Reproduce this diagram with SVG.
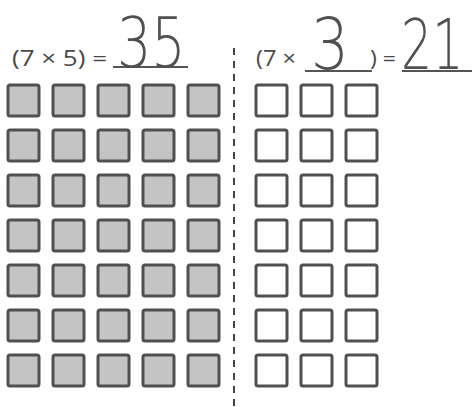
<svg xmlns="http://www.w3.org/2000/svg" xmlns:xlink="http://www.w3.org/1999/xlink" width="474" height="407" viewBox="0 0 474 407">
<style>
.pr{font-family:"Open Sans","Liberation Sans",sans-serif;font-size:21px;fill:#4a4a4a}
.hw{font-family:"DejaVu Sans","Lato",sans-serif;font-weight:200;fill:#505050}
.ul{stroke:#555;stroke-width:2}
.sq{stroke:#505050;stroke-width:3}
.g{fill:#c4c4c4}
.w{fill:#fff}
</style>
<defs>
<rect id="gs" class="sq g" width="31" height="31" rx="2"/>
<rect id="ws" class="sq w" width="31" height="31" rx="2"/>
</defs>
<rect width="474" height="407" fill="#fff"/>
<g id="left-eq">
<text class="pr" x="12" y="66" textLength="95" lengthAdjust="spacingAndGlyphs">(7 × 5) =</text>
<line class="ul" x1="113" y1="67" x2="188" y2="67"/>
<text class="hw" transform="translate(117,67) scale(0.77,1)" font-size="70">35</text>
</g>
<g id="right-eq">
<text class="pr" x="256" y="66" textLength="40" lengthAdjust="spacingAndGlyphs">(7 ×</text>
<line class="ul" x1="305" y1="71" x2="372" y2="71"/>
<text class="hw" transform="translate(311,69) scale(0.83,1)" font-size="72">3</text>
<text class="pr" x="370" y="66" textLength="26" lengthAdjust="spacingAndGlyphs">) =</text>
<line class="ul" x1="402" y1="71" x2="472" y2="71"/>
<text class="hw" transform="translate(401,69) scale(0.7,1)" font-size="70">21</text>
</g>
<g id="divider">
<line x1="234" y1="48" x2="234" y2="407" stroke="#444" stroke-width="2" stroke-dasharray="7 6"/>
</g>
<g id="left-grid">
<use xlink:href="#gs" x="8" y="85"/><use xlink:href="#gs" x="53" y="85"/><use xlink:href="#gs" x="98" y="85"/><use xlink:href="#gs" x="143" y="85"/><use xlink:href="#gs" x="188" y="85"/>
<use xlink:href="#gs" x="8" y="130"/><use xlink:href="#gs" x="53" y="130"/><use xlink:href="#gs" x="98" y="130"/><use xlink:href="#gs" x="143" y="130"/><use xlink:href="#gs" x="188" y="130"/>
<use xlink:href="#gs" x="8" y="175"/><use xlink:href="#gs" x="53" y="175"/><use xlink:href="#gs" x="98" y="175"/><use xlink:href="#gs" x="143" y="175"/><use xlink:href="#gs" x="188" y="175"/>
<use xlink:href="#gs" x="8" y="220"/><use xlink:href="#gs" x="53" y="220"/><use xlink:href="#gs" x="98" y="220"/><use xlink:href="#gs" x="143" y="220"/><use xlink:href="#gs" x="188" y="220"/>
<use xlink:href="#gs" x="8" y="265"/><use xlink:href="#gs" x="53" y="265"/><use xlink:href="#gs" x="98" y="265"/><use xlink:href="#gs" x="143" y="265"/><use xlink:href="#gs" x="188" y="265"/>
<use xlink:href="#gs" x="8" y="310"/><use xlink:href="#gs" x="53" y="310"/><use xlink:href="#gs" x="98" y="310"/><use xlink:href="#gs" x="143" y="310"/><use xlink:href="#gs" x="188" y="310"/>
<use xlink:href="#gs" x="8" y="355"/><use xlink:href="#gs" x="53" y="355"/><use xlink:href="#gs" x="98" y="355"/><use xlink:href="#gs" x="143" y="355"/><use xlink:href="#gs" x="188" y="355"/>
</g>
<g id="right-grid">
<use xlink:href="#ws" x="256" y="85"/><use xlink:href="#ws" x="301" y="85"/><use xlink:href="#ws" x="346" y="85"/>
<use xlink:href="#ws" x="256" y="130"/><use xlink:href="#ws" x="301" y="130"/><use xlink:href="#ws" x="346" y="130"/>
<use xlink:href="#ws" x="256" y="175"/><use xlink:href="#ws" x="301" y="175"/><use xlink:href="#ws" x="346" y="175"/>
<use xlink:href="#ws" x="256" y="220"/><use xlink:href="#ws" x="301" y="220"/><use xlink:href="#ws" x="346" y="220"/>
<use xlink:href="#ws" x="256" y="265"/><use xlink:href="#ws" x="301" y="265"/><use xlink:href="#ws" x="346" y="265"/>
<use xlink:href="#ws" x="256" y="310"/><use xlink:href="#ws" x="301" y="310"/><use xlink:href="#ws" x="346" y="310"/>
<use xlink:href="#ws" x="256" y="355"/><use xlink:href="#ws" x="301" y="355"/><use xlink:href="#ws" x="346" y="355"/>
</g>
</svg>
